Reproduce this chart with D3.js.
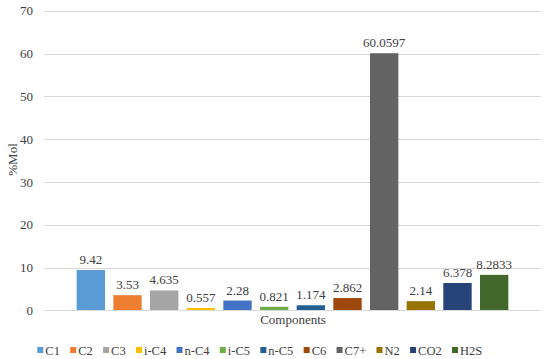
<!DOCTYPE html>
<html><head><meta charset="utf-8">
<script src="https://cdn.jsdelivr.net/npm/d3@7"></script>
<style>body{margin:0;background:#fff;} svg{display:block;} svg text{font-family:"Liberation Serif","Times New Roman",serif;}</style>
</head><body>
<script>
const categories = ["C1","C2","C3","i-C4","n-C4","i-C5","n-C5","C6","C7+","N2","CO2","H2S"];
const values = [9.42,3.53,4.635,0.557,2.28,0.821,1.174,2.862,60.0597,2.14,6.378,8.2833];
const labels = ["9.42","3.53","4.635","0.557","2.28","0.821","1.174","2.862","60.0597","2.14","6.378","8.2833"];
const colors = ["#5B9BD5","#ED7D31","#A5A5A5","#FFC000","#4472C4","#70AD47","#255E91","#9E480E","#636363","#997300","#264478","#43682B"];
const yTicks = [0,10,20,30,40,50,60,70];

const W = 550, H = 359;
const svg = d3.select("body").append("svg").attr("width", W).attr("height", H);

const plotL = 44, plotR = 541;
const y = d3.scaleLinear().domain([0,70]).range([310.3, 10.7]);
const x = d3.scaleBand().domain(categories).range([72.5, 512.5]).paddingInner(0.227).paddingOuter(0.1135);

// gridlines
svg.append("g").selectAll("line").data(yTicks).join("line")
  .attr("x1", plotL).attr("x2", plotR)
  .attr("y1", d => Math.round(y(d)) + 0.5).attr("y2", d => Math.round(y(d)) + 0.5)
  .attr("stroke", "#d9d9d9").attr("stroke-width", 1);

// y axis labels
const yAxis = d3.axisLeft(y).tickValues(yTicks).tickSize(0).tickPadding(0);
const ga = svg.append("g").attr("transform", "translate(33,0)").call(yAxis);
ga.select(".domain").remove();
ga.attr("font-family", null);
ga.selectAll("text").attr("font-size", 13).attr("fill", "#404040");

// bars
svg.append("g").selectAll("rect").data(values).join("rect")
  .attr("x", (d,i) => x(categories[i]))
  .attr("width", x.bandwidth())
  .attr("y", d => y(d))
  .attr("height", d => y(0) - y(d))
  .attr("fill", (d,i) => colors[i]);

// baseline
svg.append("line").attr("x1", plotL).attr("x2", plotR)
  .attr("y1", Math.round(y(0)) + 0.5).attr("y2", Math.round(y(0)) + 0.5)
  .attr("stroke", "#d9d9d9");

// value labels
svg.append("g").selectAll("text").data(values).join("text")
  .attr("x", (d,i) => x(categories[i]) + x.bandwidth()/2)
  .attr("y", d => y(d) - 6)
  .attr("text-anchor", "middle")
  .attr("font-size", 13).attr("fill", "#404040")
  .text((d,i) => labels[i]);

// axis titles
svg.append("text").attr("x", 293).attr("y", 323.5)
  .attr("text-anchor", "middle").attr("font-size", 13)
  .attr("fill", "#404040").text("Components");
svg.append("text").attr("transform", "translate(16.5,159.5) rotate(-90)")
  .attr("text-anchor", "middle").attr("font-size", 13)
  .attr("fill", "#404040").text("%Mol");

// legend (laid out by measured text widths)
const lg = svg.append("g");
let lx = 37.3;
categories.forEach((c, i) => {
  const g = lg.append("g").attr("transform", `translate(${lx},350)`);
  g.append("rect").attr("x", 0).attr("y", -3).attr("width", 6).attr("height", 6).attr("fill", colors[i]);
  const t = g.append("text").attr("x", 8).attr("y", 4.5).attr("font-size", 12.5).attr("fill", "#404040").text(c);
  lx += 8 + t.node().getComputedTextLength() + 10.3;
});
</script>
</body></html>
